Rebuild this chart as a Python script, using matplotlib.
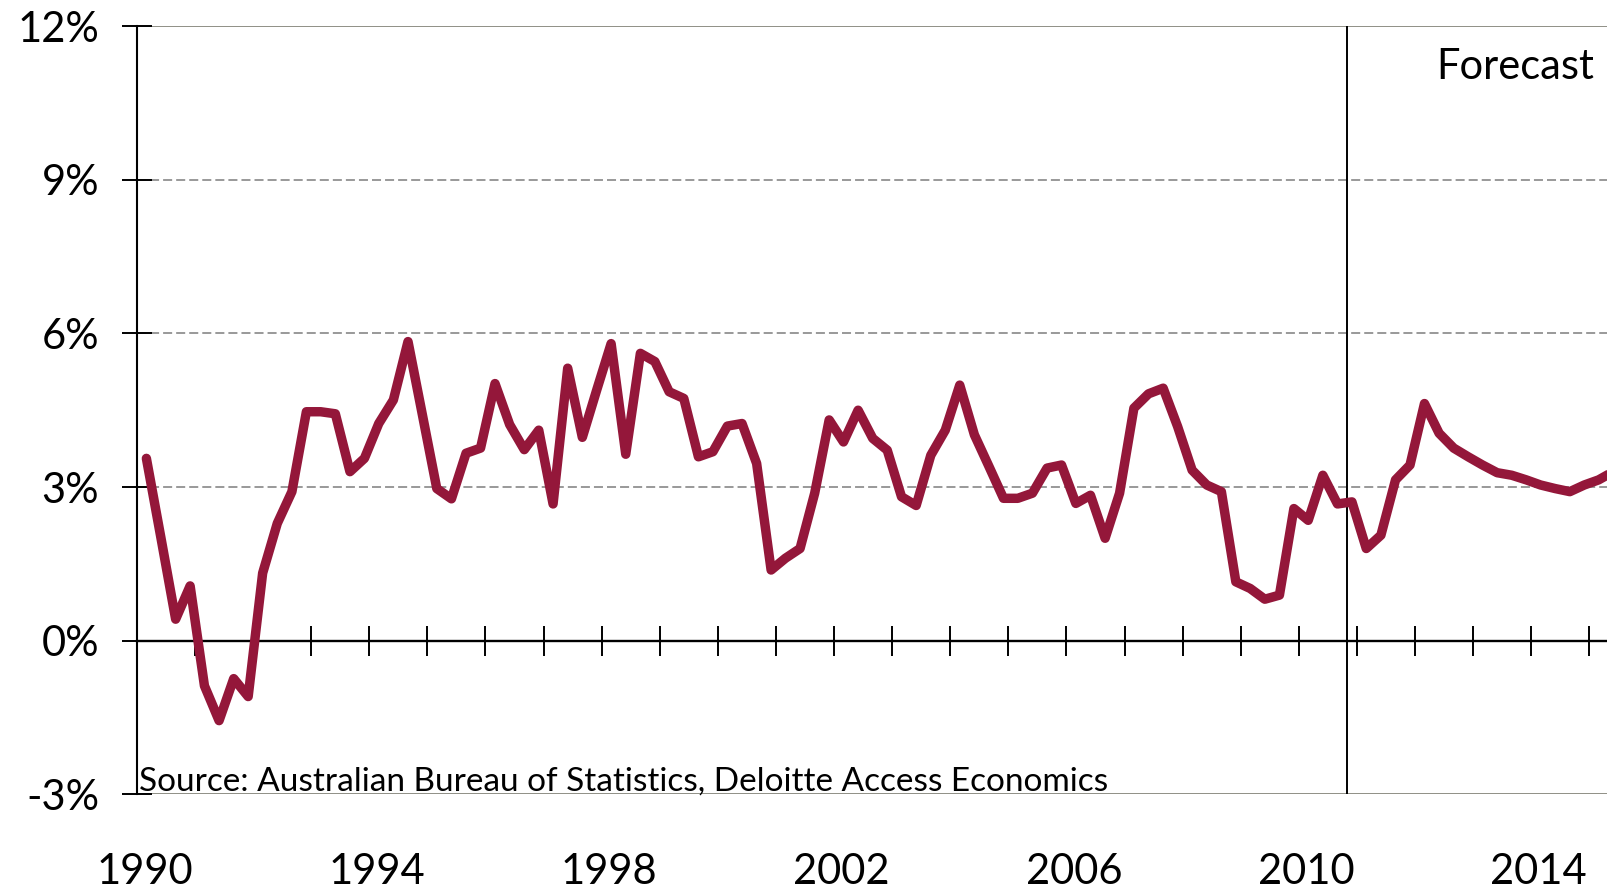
import matplotlib
matplotlib.use("Agg")
import matplotlib.pyplot as plt
import matplotlib.dates as mdates
import pandas as pd
import numpy as np

plt.rcParams['font.family'] = ['Lato', 'DejaVu Sans']
plt.rcParams['lines.scale_dashes'] = False

# Quarterly growth (%), Mar-1990 onwards (history + forecast)
growth = [3.56, 2.0, 0.42, 1.07, -0.88, -1.56, -0.74, -1.09, 1.32, 2.29,
          2.91, 4.47, 4.47, 4.43, 3.30, 3.56, 4.24, 4.70, 5.84, 4.40,
          2.97, 2.77, 3.66, 3.76, 5.02, 4.22, 3.73, 4.11, 2.67, 5.32,
          3.97, 4.90, 5.80, 3.64, 5.61, 5.45, 4.86, 4.73, 3.59, 3.69,
          4.19, 4.24, 3.46, 1.38, 1.61, 1.80, 2.88, 4.31, 3.88, 4.50,
          3.95, 3.72, 2.81, 2.64, 3.62, 4.11, 4.99, 4.02, 3.40, 2.78,
          2.78, 2.88, 3.37, 3.43, 2.68, 2.84, 2.00, 2.88, 4.54, 4.82,
          4.93, 4.18, 3.33, 3.04, 2.91, 1.15, 1.02, 0.81, 0.89, 2.58,
          2.35, 3.23, 2.67, 2.71, 1.80, 2.06, 3.14, 3.43, 4.63, 4.05,
          3.76, 3.59, 3.43, 3.28, 3.23, 3.14, 3.04, 2.97, 2.91, 3.04,
          3.14, 3.30]
dates = pd.date_range('1990-03-01', periods=len(growth), freq='3MS')

year_labels = ['1990', '1994', '1998', '2002', '2006', '2010', '2014']
y_ticks = [-3, 0, 3, 6, 9, 12]
y_tick_labels = ['-3%', '0%', '3%', '6%', '9%', '12%']
forecast_start = pd.Timestamp('2010-11-01')
source_text = 'Source: Australian Bureau of Statistics, Deloitte Access Economics'

W, H = 1608, 890
fig = plt.figure(figsize=(W / 100, H / 100), dpi=100)
ax = fig.add_axes([137 / W, (H - 794.4) / H, 1510.3 / W, 768.4 / H])

xmin, xmax = pd.Timestamp('1990-01-01'), pd.Timestamp('2016-01-01')
ax.set_xlim(xmin, xmax)
ax.set_ylim(-3, 12)

# grid lines
for v in [3, 6, 9]:
    ax.axhline(v, color='#878787', lw=1.2, ls=(0, (6.5, 2.9)), zorder=1)
for v in [12, -3]:
    ax.axhline(v, color='#8f8f86', lw=1.4, zorder=1)

ax.axvline(forecast_start, color='black', lw=1.4, zorder=2)

ax.plot(dates, growth, color='#94173a', lw=6.8, solid_joinstyle='round',
        solid_capstyle='round', zorder=3)

# spines
for s in ['top', 'right']:
    ax.spines[s].set_visible(False)
ax.spines['left'].set_linewidth(1.5)
ax.spines['left'].set_zorder(2.6)
ax.spines['bottom'].set_position(('data', 0))
ax.spines['bottom'].set_linewidth(1.7)
ax.spines['bottom'].set_zorder(2.5)

ax.set_yticks(y_ticks)
ax.set_yticklabels(y_tick_labels)
ax.tick_params(axis='y', direction='inout', length=21.6, width=1.4,
               pad=16.5, labelsize=30, colors='black')

ax.xaxis.set_major_locator(mdates.YearLocator(1))
ax.tick_params(axis='x', direction='inout', length=21, width=1.4,
               labelbottom=False)

# year labels at bottom
for lab in year_labels:
    xd = pd.Timestamp(f'{lab}-01-01') + pd.Timedelta(days=47)
    ax.text(xd, -0.1166, lab, transform=ax.get_xaxis_transform(),
            ha='center', va='baseline', fontsize=30, clip_on=False)

ax.text(pd.Timestamp('1990-01-12'), -2.93, source_text, ha='left',
        va='baseline', fontsize=24, zorder=4)
ax.text(pd.Timestamp('2015-01-30'), 10.96, 'Forecast', ha='right',
        va='baseline', fontsize=30, zorder=4)

fig.savefig('out.png', dpi=100)
